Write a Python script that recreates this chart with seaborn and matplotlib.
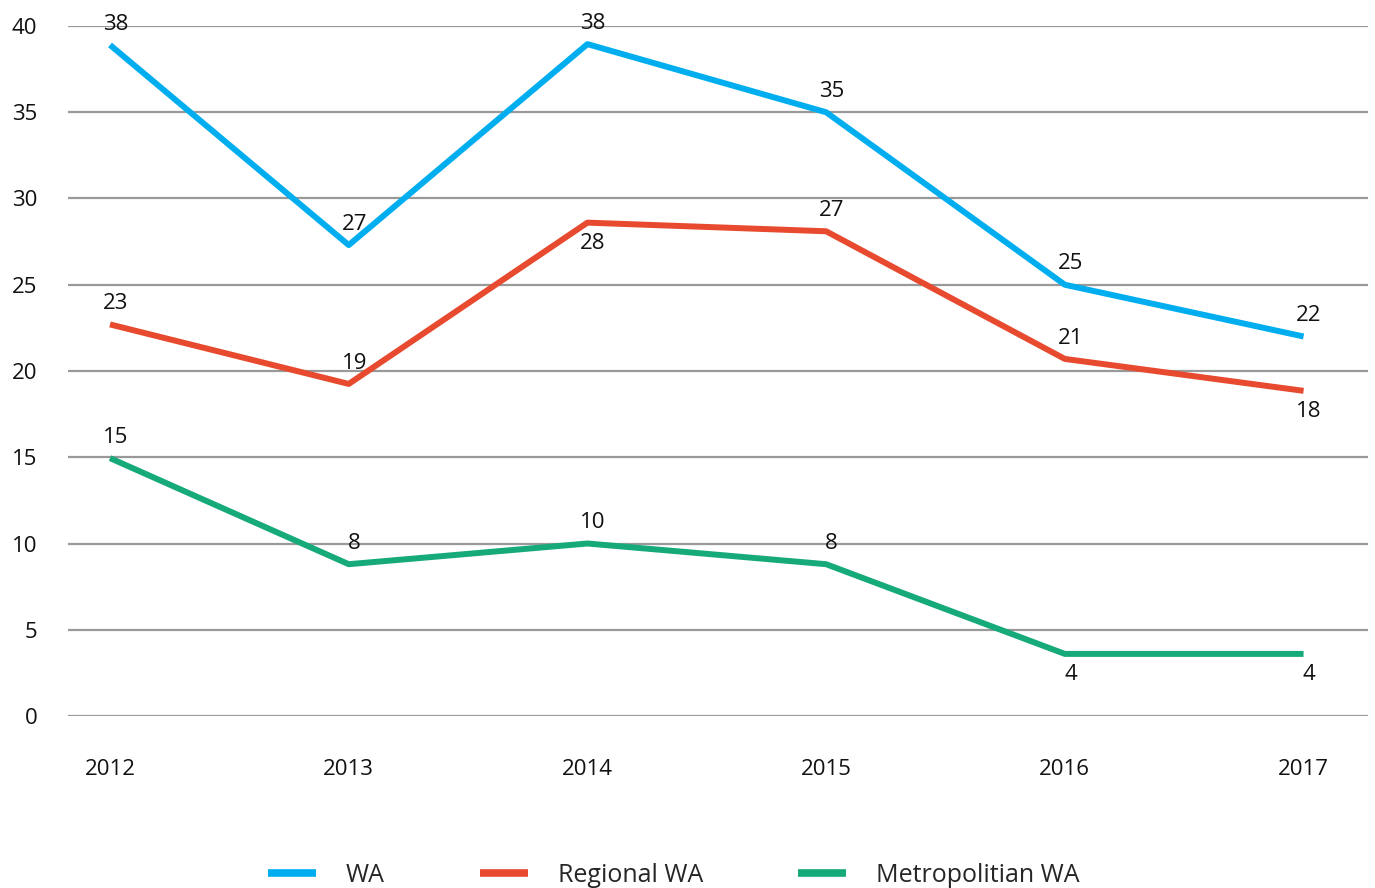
import numpy as np
import pandas as pd
import seaborn as sns
from matplotlib import pyplot as plt

years = [2012, 2013, 2014, 2015, 2016, 2017]
wa = [38.9, 27.3, 38.95, 35.0, 25.0, 22.0]
regional = [22.7, 19.25, 28.6, 28.1, 20.7, 18.85]
metro = [14.95, 8.8, 10.0, 8.8, 3.6, 3.6]

# labels shown on the chart (as printed in the original)
wa_labels = ["38", "27", "38", "35", "25", "22"]
regional_labels = ["23", "19", "28", "27", "21", "18"]
metro_labels = ["15", "8", "10", "8", "4", "4"]

series = ["WA", "Regional WA", "Metropolitian WA"]
colors = ["#00AEEF", "#E84A2F", "#16A97A"]

df = pd.DataFrame({
    "pos": list(range(len(years))) * 3,
    "value": wa + regional + metro,
    "series": [series[0]] * 6 + [series[1]] * 6 + [series[2]] * 6,
})

sns.set_style("white")
plt.rcParams["font.family"] = ["Open Sans", "DejaVu Sans"]

fig = plt.figure(figsize=(13.75, 8.88), dpi=100)
ax = fig.add_axes([68 / 1375, (888 - 716) / 888, 1300 / 1375, 690 / 888])

sns.lineplot(data=df, x="pos", y="value", hue="series", palette=colors,
             linewidth=4.3, ax=ax, legend=False, clip_on=False,
             solid_capstyle="butt")

ax.set_ylim(0, 40)
ax.set_xlim(-0.176, 5.27)
ax.set_yticks(range(0, 41, 5))
ax.set_xticks(range(len(years)))
ax.set_xticklabels([str(y) for y in years])
ax.yaxis.grid(True, color="#999999", linewidth=1.6)
ax.set_axisbelow(True)
for s in ax.spines.values():
    s.set_visible(False)
ax.tick_params(axis="y", length=0, pad=22, labelsize=16, labelcolor="#111111")
ax.tick_params(axis="x", length=0, pad=31, labelsize=16, labelcolor="#111111")
ax.set_xlabel("")
ax.set_ylabel("")

# label positions: +1 above the point, -1 below
wa_side = [1, 1, 1, 1, 1, 1]
regional_side = [1, 1, -1, 1, 1, -1]
metro_side = [1, 1, 1, 1, -1, -1]

for vals, labs, sides in [(wa, wa_labels, wa_side),
                          (regional, regional_labels, regional_side),
                          (metro, metro_labels, metro_side)]:
    for i, (v, t, sd) in enumerate(zip(vals, labs, sides)):
        ax.annotate(t, (i, v), xytext=(4, 15 * sd), textcoords="offset points",
                    ha="center", va="center", fontsize=16, color="#111111",
                    annotation_clip=False)

handles = [plt.Line2D([], [], color=c, linewidth=5.5, solid_capstyle="butt")
           for c in colors]
fig.legend(handles, series, loc="center", bbox_to_anchor=(0.49, 13 / 888),
           ncol=3, frameon=False, fontsize=18, handlelength=1.92,
           handletextpad=1.2, columnspacing=3.8)

fig.savefig("out.png", dpi=100)
